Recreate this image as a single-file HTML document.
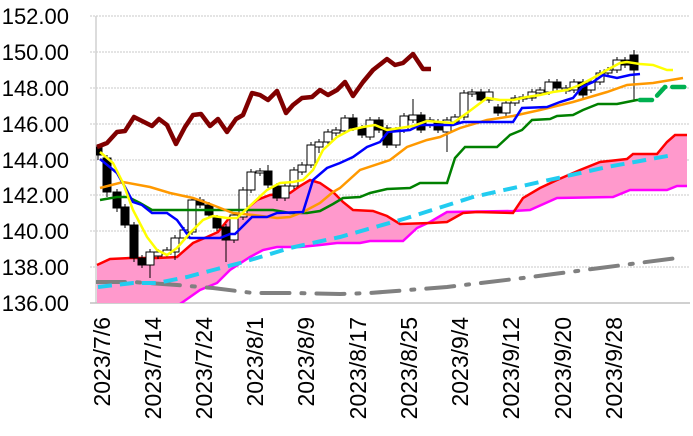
<!DOCTYPE html>
<html><head><meta charset="utf-8"><style>
html,body{margin:0;padding:0;background:#fff;}
svg{display:block;font-family:"Liberation Sans",sans-serif;}
</style></head><body>
<svg width="693" height="436" viewBox="0 0 693 436">
<defs><clipPath id="pa"><rect x="96" y="10" width="597" height="293"/></clipPath></defs>
<g stroke="#c8c8c8" stroke-dasharray="2,1" stroke-width="1">
<line x1="90" y1="16" x2="690" y2="16"/><line x1="90" y1="52" x2="690" y2="52"/><line x1="90" y1="88" x2="690" y2="88"/><line x1="90" y1="124" x2="690" y2="124"/><line x1="90" y1="160" x2="690" y2="160"/><line x1="90" y1="195" x2="690" y2="195"/><line x1="90" y1="231" x2="690" y2="231"/><line x1="90" y1="267" x2="690" y2="267"/>
</g>
<line x1="96" y1="16" x2="96" y2="303" stroke="#d0d0d0" stroke-width="1.5"/>
<line x1="90" y1="303" x2="690" y2="303" stroke="#c0c0c0" stroke-width="1.5"/>
<g font-size="22" text-anchor="end" fill="#000">
<text x="69" y="24">152.00</text><text x="69" y="60">150.00</text><text x="69" y="96">148.00</text><text x="69" y="132">146.00</text><text x="69" y="168">144.00</text><text x="69" y="203">142.00</text><text x="69" y="239">140.00</text><text x="69" y="275">138.00</text><text x="69" y="311">136.00</text>
</g>
<g clip-path="url(#pa)">
<polygon fill="#ff99cc" points="97,265 110,259 130,258 157,258 177,257 193,243 207,237 218,232 230,217 243,212 257,200 270,195 290,193 300,186 310,180 320,183 333,192 343,202 353,210 373,211 387,216 400,224 430,223 447,222 463,213 477,212 513,213 523,198 540,188 557,180 580,170 600,162 627,159 633,154 657,154 667,142 675,135 687,135 687,186 677,186 667,190 630,190 613,197 557,198 530,210 513,211 447,212 430,222 417,228 403,241 370,241 360,243 337,243 320,245 300,247 277,247 263,250 250,257 230,270 217,283 200,290 180,304 150,320 97,320"/>
<polyline fill="none" stroke="#ff00ff" stroke-width="2.5" points="150,320 180,304 200,290 217,283 230,270 250,257 263,250 277,247 300,247 320,245 337,243 360,243 370,241 403,241 417,228 430,222 447,212 513,211 530,210 557,198 613,197 630,190 667,190 677,186 687,186"/>
<polyline fill="none" stroke="#ff0000" stroke-width="2.5" points="97,265 110,259 130,258 157,258 177,257 193,243 207,237 218,232 230,217 243,212 257,200 270,195 290,193 300,186 310,180 320,183 333,192 343,202 353,210 373,211 387,216 400,224 430,223 447,222 463,213 477,212 513,213 523,198 540,188 557,180 580,170 600,162 627,159 633,154 657,154 667,142 675,135 687,135"/>
<polyline fill="none" stroke="#808080" stroke-width="4" stroke-dasharray="28,12,3,12" stroke-linecap="round" points="97,282 133,282 177,285 213,288 253,293 293,293 340,294 370,293 447,287 523,278 600,268 677,258"/>
<polyline fill="none" stroke="#22ccf0" stroke-width="4" stroke-dasharray="14,8" points="98,287 133,283 157,283 187,277 217,269 240,263 267,255 290,248 317,242 340,237 407,218 473,197 540,182 607,167 673,155"/>
<path fill="none" stroke="#000" stroke-width="1" d="M98 144V160 M107 155V197 M117 189V212 M125 204V228 M134 222V262 M142 255V268 M150 249V278 M158 249V259 M167 247V257 M175 235V260 M184 227V241 M192 197V235 M200 197V208 M209 202V218 M217 215V231 M226 224V262 M234 212V243 M243 187V220 M251 169V193 M260 168V176 M268 165V188 M277 183V201 M285 183V201 M294 167V189 M302 162V175 M311 142V168 M319 139V153 M328 129V145 M336 127V136 M345 115V134 M353 114V131 M362 125V138 M370 117V140 M379 117V133 M387 125V148 M396 127V148 M404 113V133 M413 99V123 M421 112V133 M430 117V128 M438 119V133 M447 117V152 M455 114V125 M464 90V120 M472 89V97 M481 89V103 M489 89V103 M498 104V116 M506 100V116 M515 95V106 M523 94V102 M532 89V101 M540 87V96 M549 79V95 M557 79V91 M566 85V94 M574 79V93 M583 79V98 M591 79V93 M600 70V85 M608 67V76 M617 57V73 M625 57V68 M634 50V100"/>
<g stroke="#000" stroke-width="1">
<rect x="94" y="147" width="8" height="8" fill="#000"/><rect x="103" y="158" width="8" height="34" fill="#000"/><rect x="113" y="192" width="8" height="16" fill="#000"/><rect x="121" y="207" width="8" height="18" fill="#000"/><rect x="130" y="225" width="8" height="33" fill="#000"/><rect x="138" y="258" width="8" height="7" fill="#000"/><rect x="146" y="252" width="8" height="13" fill="#fff"/><rect x="154" y="252" width="8" height="4" fill="#fff"/><rect x="163" y="250" width="8" height="4" fill="#fff"/><rect x="171" y="238" width="8" height="14" fill="#fff"/><rect x="180" y="230" width="8" height="8" fill="#fff"/><rect x="188" y="200" width="8" height="32" fill="#fff"/><rect x="196" y="200" width="8" height="5" fill="#000"/><rect x="205" y="205" width="8" height="10" fill="#000"/><rect x="213" y="218" width="8" height="10" fill="#000"/><rect x="222" y="227" width="8" height="13" fill="#000"/><rect x="230" y="215" width="8" height="25" fill="#fff"/><rect x="239" y="190" width="8" height="27" fill="#fff"/><rect x="247" y="172" width="8" height="18" fill="#fff"/><rect x="256" y="171" width="8" height="2" fill="#fff"/><rect x="264" y="171" width="8" height="14" fill="#000"/><rect x="273" y="186" width="8" height="12" fill="#000"/><rect x="281" y="186" width="8" height="12" fill="#fff"/><rect x="290" y="170" width="8" height="16" fill="#fff"/><rect x="298" y="165" width="8" height="7" fill="#fff"/><rect x="307" y="145" width="8" height="20" fill="#fff"/><rect x="315" y="142" width="8" height="5" fill="#fff"/><rect x="324" y="132" width="8" height="10" fill="#fff"/><rect x="332" y="130" width="8" height="3" fill="#fff"/><rect x="341" y="118" width="8" height="13" fill="#fff"/><rect x="349" y="118" width="8" height="10" fill="#000"/><rect x="358" y="128" width="8" height="7" fill="#000"/><rect x="366" y="120" width="8" height="17" fill="#fff"/><rect x="375" y="120" width="8" height="10" fill="#000"/><rect x="383" y="128" width="8" height="17" fill="#000"/><rect x="392" y="130" width="8" height="15" fill="#fff"/><rect x="400" y="116" width="8" height="14" fill="#fff"/><rect x="409" y="115" width="8" height="5" fill="#fff"/><rect x="417" y="115" width="8" height="15" fill="#000"/><rect x="426" y="120" width="8" height="5" fill="#fff"/><rect x="434" y="122" width="8" height="8" fill="#000"/><rect x="443" y="120" width="8" height="12" fill="#fff"/><rect x="451" y="117" width="8" height="5" fill="#fff"/><rect x="460" y="93" width="8" height="24" fill="#fff"/><rect x="468" y="92" width="8" height="2" fill="#fff"/><rect x="477" y="92" width="8" height="8" fill="#000"/><rect x="485" y="92" width="8" height="8" fill="#fff"/><rect x="494" y="107" width="8" height="6" fill="#000"/><rect x="502" y="103" width="8" height="10" fill="#fff"/><rect x="511" y="98" width="8" height="5" fill="#fff"/><rect x="519" y="97" width="8" height="2" fill="#fff"/><rect x="528" y="92" width="8" height="6" fill="#fff"/><rect x="536" y="90" width="8" height="3" fill="#fff"/><rect x="545" y="82" width="8" height="10" fill="#fff"/><rect x="553" y="82" width="8" height="6" fill="#000"/><rect x="562" y="88" width="8" height="3" fill="#fff"/><rect x="570" y="82" width="8" height="8" fill="#fff"/><rect x="579" y="82" width="8" height="13" fill="#000"/><rect x="587" y="82" width="8" height="8" fill="#fff"/><rect x="596" y="73" width="8" height="9" fill="#fff"/><rect x="604" y="70" width="8" height="3" fill="#fff"/><rect x="613" y="60" width="8" height="10" fill="#fff"/><rect x="621" y="60" width="8" height="5" fill="#000"/><rect x="630" y="55" width="8" height="15" fill="#000"/>
</g>
<polyline fill="none" stroke="#008000" stroke-width="2.5" points="100,200 117,197 128,197 140,203 152,210 200,210 273,210 290,213 307,213 320,211 333,204 343,198 360,197 370,193 387,189 410,188 420,183 447,183 455,158 465,147 497,147 510,135 522,130 532,120 550,119 557,116 573,115 583,110 598,104 617,104 637,100 640,100"/>
<polyline fill="none" stroke="#00b050" stroke-width="4.5" stroke-dasharray="12,7" stroke-linecap="round" points="640,100 653,100 665,87 687,87"/>
<polyline fill="none" stroke="#ff9900" stroke-width="2.5" points="100,188 123,182 150,187 170,193 193,198 210,204 233,213 253,215 277,218 290,217 303,212 320,203 333,192 340,188 360,170 390,160 407,147 427,140 440,137 460,128 487,120 513,116 540,110 573,102 607,92 627,85 653,83 683,78"/>
<polyline fill="none" stroke="#0000ff" stroke-width="2.5" points="100,159 117,173 125,187 133,202 142,205 152,213 167,213 177,220 190,238 220,238 230,234 235,234 252,217 267,217 277,213 303,212 313,180 327,168 340,163 353,157 367,147 380,142 388,132 410,130 420,125 453,125 463,122 513,122 522,108 547,107 560,102 573,98 582,87 593,82 603,75 617,78 630,75 640,74"/>
<polyline fill="none" stroke="#ffff00" stroke-width="2.5" points="100,152 113,163 123,183 133,210 147,237 157,250 167,255 177,248 190,233 203,220 213,216 227,218 237,218 253,203 267,190 280,183 293,182 303,180 313,170 323,150 337,137 350,130 363,127 375,125 387,130 400,128 413,126 427,121 440,122 453,123 467,113 487,98 500,100 513,100 527,97 540,95 553,92 567,90 580,85 593,78 607,70 620,63 627,62 640,64 653,65 667,70 673,70"/>
<polyline fill="none" stroke="#800000" stroke-width="4.5" stroke-linejoin="round" points="97,147 107,143 117,132 125,131 134,117 152,126 159,119 167,125 176,144 185,127 193,115 201,114 210,126 218,119 227,132 236,119 243,115 252,93 260,95 268,100 277,91 286,113 293,105 302,98 312,97 320,90 328,95 337,90 345,82 353,96 363,82 373,70 387,59 395,65 403,63 413,54 423,69 431,69"/>
</g>
<g font-size="23" fill="#000" text-anchor="end">
<text transform="translate(110,317) rotate(-90)">2023/7/6</text>
<text transform="translate(161,317) rotate(-90)">2023/7/14</text>
<text transform="translate(212,317) rotate(-90)">2023/7/24</text>
<text transform="translate(263,317) rotate(-90)">2023/8/1</text>
<text transform="translate(314,317) rotate(-90)">2023/8/9</text>
<text transform="translate(366,317) rotate(-90)">2023/8/17</text>
<text transform="translate(417,317) rotate(-90)">2023/8/25</text>
<text transform="translate(468,317) rotate(-90)">2023/9/4</text>
<text transform="translate(519,317) rotate(-90)">2023/9/12</text>
<text transform="translate(571,317) rotate(-90)">2023/9/20</text>
<text transform="translate(622,317) rotate(-90)">2023/9/28</text>
</g>
</svg>
</body></html>
